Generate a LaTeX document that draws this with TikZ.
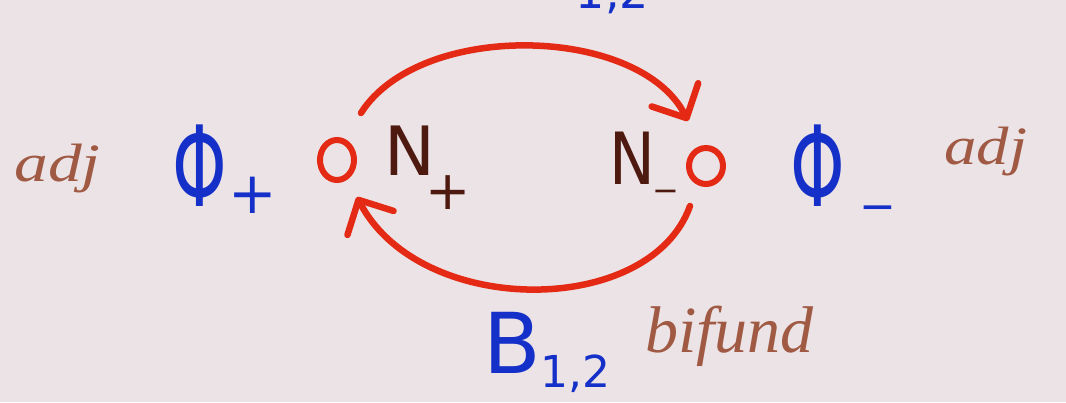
\documentclass[tikz,border=0pt]{standalone}
\usepackage{fontspec}
\setmainfont{DejaVu Sans}
\newfontfamily\handfont{Liberation Serif}
\usetikzlibrary{arrows.meta,shapes.geometric}
\definecolor{bgc}{HTML}{EBE3E6}
\definecolor{penblue}{HTML}{1530C8}
\definecolor{penred}{HTML}{E42A14}
\definecolor{penbrown}{HTML}{A05A44}
\definecolor{pendark}{HTML}{4E1A10}
\tikzset{
  bluetxt/.style={text=penblue, inner sep=0pt},
  ntxt/.style={text=pendark, inner sep=0pt},
  handtxt/.style={text=penbrown, inner sep=0pt, font=\handfont\itshape\fontsize{54}{54}\selectfont},
  vertex/.style={draw=penred, line width=6pt, ellipse, inner sep=0pt},
  flow/.style={draw=penred, line width=6.5pt, line cap=round,
    -{Straight Barb[length=26pt,width=52pt,line width=6.5pt,round]}},
}
\begin{document}
\begin{tikzpicture}[x=1pt,y=-1pt]
\fill[bgc] (0,0) rectangle (1066,402);
\clip (0,0) rectangle (1066,402);
% side labels
\node[handtxt, anchor=base west, xscale=1.25] (adjL) at (14,181) {adj};
\node[handtxt, anchor=base west, xscale=1.2] (adjR) at (944,164) {adj};
% Phi fields
\node[bluetxt, anchor=base, xscale=0.62, font=\fontsize{112}{112}\selectfont] (phiP) at (200,206) {Φ};
\node[bluetxt, font=\fontsize{58}{58}\selectfont] (phiPs) at (253,195) {+};
\node[bluetxt, anchor=base, xscale=0.62, font=\fontsize{112}{112}\selectfont] (phiM) at (818,206) {Φ};
\node[bluetxt, font=\fontsize{44}{44}\selectfont] (phiMs) at (878,214) {−};
% nodes
\node[vertex, minimum width=34pt, minimum height=40pt] (cl) at (337,160) {};
\node[vertex, minimum width=34pt, minimum height=36pt] (cr) at (706,166) {};
\node[ntxt, anchor=base, font=\fontsize{68}{68}\selectfont] (Np) at (410,175) {N};
\node[ntxt, font=\fontsize{54}{54}\selectfont] (Nps) at (448,193) {+};
\node[ntxt, anchor=base, xscale=0.85, font=\fontsize{72}{72}\selectfont] (Nm) at (632,184) {N};
\node[ntxt, font=\fontsize{32}{32}\selectfont] (Nms) at (666,196) {−};
% arcs
\coordinate (a1) at (361,113);
\coordinate (a2) at (688,121);
\coordinate (b1) at (690,206);
\coordinate (b2) at (357,197);
\draw[flow] (a1) .. controls (420,20) and (640,25) .. (a2);
\draw[flow] (b1) .. controls (650,318) and (420,318) .. (b2);
% bifundamental labels
\node[bluetxt, anchor=base west, font=\fontsize{84}{84}\selectfont] (B) at (483,373) {B\raisebox{-0.17em}{\fontsize{44}{44}\selectfont 1,2}};
\node[bluetxt, anchor=base west, font=\fontsize{84}{84}\selectfont] (Btop) at (518,-8) {B\raisebox{-0.2em}{\fontsize{46}{46}\selectfont 1,2}};
\node[handtxt, anchor=base west, font=\handfont\itshape\fontsize{66}{66}\selectfont] (bif) at (645,352) {bifund};
\end{tikzpicture}
\end{document}
